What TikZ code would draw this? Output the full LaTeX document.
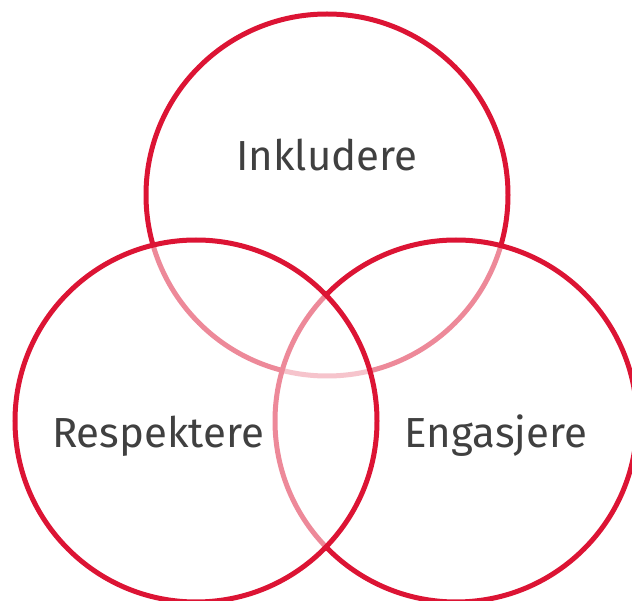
\documentclass[tikz,border=0pt]{standalone}
\usepackage{fontspec}
\setmainfont{Fira Sans}
\definecolor{vred}{RGB}{220,20,52}
\definecolor{vtext}{RGB}{64,64,64}
\begin{document}
\begin{tikzpicture}[x=1pt,y=-1pt,
  ring/.style={draw=vred,line width=5pt,fill=white,fill opacity=0.5,draw opacity=1},
  lbl/.style={text=vtext,font=\fontsize{42}{50}\selectfont,inner sep=0pt,anchor=base}]
\useasboundingbox (0,0) rectangle (632,601);
\clip (0,0) rectangle (632,601);
\path[ring] (327,195) circle[radius=181];
\path[ring] (456,421) circle[radius=181];
\path[ring] (196,421) circle[radius=181];
\node[lbl] (inkl) at (327,171) {Inkludere};
\node[lbl] (resp) at (158,447) {Respektere};
\node[lbl] (enga) at (496,447) {Engasjere};
\end{tikzpicture}
\end{document}
